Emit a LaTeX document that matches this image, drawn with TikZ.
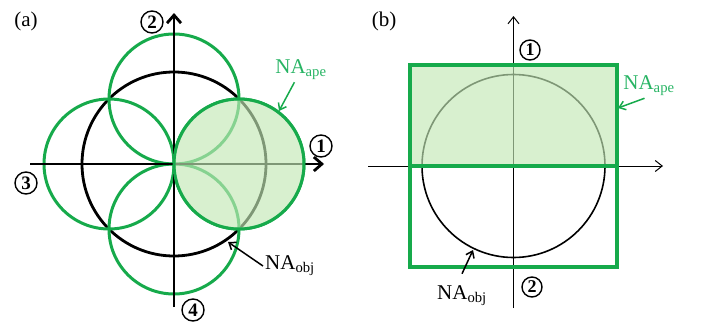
\documentclass[tikz,border=0pt]{standalone}
\usepackage{fontspec}
\setmainfont{Liberation Serif}
\usetikzlibrary{arrows.meta,calc}

\definecolor{apegreen}{RGB}{22,170,75}
\definecolor{apetext}{RGB}{40,180,100}
\definecolor{apefill}{RGB}{195,232,182}

\begin{document}
\begin{tikzpicture}[
  x=1pt, y=-1pt,
  font=\fontsize{21}{25}\selectfont,
  panel/.style={inner sep=0pt},
  num/.style={circle, draw, line width=1.4pt, inner sep=0pt, minimum size=22pt,
    font=\fontsize{19}{19}\selectfont\bfseries},
  smallnum/.style={num, minimum size=20pt, font=\fontsize{18}{18}\selectfont\bfseries},
  thickaxis/.style={line width=2.8pt, -{Straight Barb[length=8pt,width=14pt,line width=2.8pt]}},
  thinaxis/.style={line width=1pt, -{Straight Barb[length=7pt,width=11pt]}},
  objring/.style={draw=black, line width=2.8pt},
  apering/.style={draw=apegreen, line width=3pt},
  apeshade/.style={fill=apefill, fill opacity=0.65},
  ptr/.style={line width=1.5pt, -{Straight Barb[length=6pt,width=9pt]}},
  tag/.style={inner sep=2pt}
]
\useasboundingbox (0,0) rectangle (701,324);

% --- (a) circular aperture positions ---
\node[panel] (labA) at (26,21) {(a)};
\coordinate (Oa) at (174,164);
\draw[objring] (Oa) circle (92pt);
\foreach \dx/\dy in {65/0, -65/0, 0/65, 0/-65}
  \draw[apering] ($(Oa)+(\dx,\dy)$) circle (65pt);
\coordinate (axAw) at (30,164);
\coordinate (axAe) at (324,164);
\coordinate (axAs) at (174,307);
\coordinate (axAn) at (174,13);
\draw[thickaxis] (axAw) -- (axAe);
\draw[thickaxis] (axAs) -- (axAn);
\fill[apeshade] (239,164) circle (65pt);
\draw[apering] (239,164) circle (65pt);

\node[num] (pA1) at (321,146) {1};
\node[num] (pA2) at (152,22) {2};
\node[num] (pA3) at (26,183) {3};
\node[num] (pA4) at (193,310) {4};

\node[tag, text=apetext] (apeA) at (301,70) {NA\textsubscript{ape}};
\node[tag] (objA) at (290,266) {NA\textsubscript{obj}};
\coordinate (apeAtip) at (279,111);
\coordinate (objAtip) at (228,242);
\draw[ptr, apegreen] (apeA) -- (apeAtip);
\draw[ptr] (objA.west) -- (objAtip);

% --- (b) rectangular aperture ---
\node[panel] (labB) at (384,21) {(b)};
\coordinate (Ob) at (513.5,166);
\draw[line width=1.6pt] (Ob) circle (91.5pt);
\coordinate (axBw) at (368,166);
\coordinate (axBe) at (663,166);
\coordinate (axBs) at (513.5,308);
\coordinate (axBn) at (513.5,16);
\draw[thinaxis] (axBw) -- (axBe);
\draw[thinaxis] (axBs) -- (axBn);
\fill[apeshade] (410,65) rectangle (617,166);
\draw[apering, line width=3.4pt] (410,65) rectangle (617,267);
\draw[apering, line width=3.4pt] (410,166) -- (617,166);

\node[smallnum] (pB1) at (530,50) {1};
\node[smallnum] (pB2) at (532,287) {2};

\node[tag, text=apetext] (apeB) at (649,86) {NA\textsubscript{ape}};
\node[tag] (objB) at (462,296) {NA\textsubscript{obj}};
\coordinate (apeBtip) at (618,108);
\coordinate (objBtip) at (473,250);
\draw[ptr, apegreen] (apeB.250) -- (apeBtip);
\draw[ptr] ([yshift=10pt]objB.north) -- (objBtip);
\end{tikzpicture}
\end{document}
